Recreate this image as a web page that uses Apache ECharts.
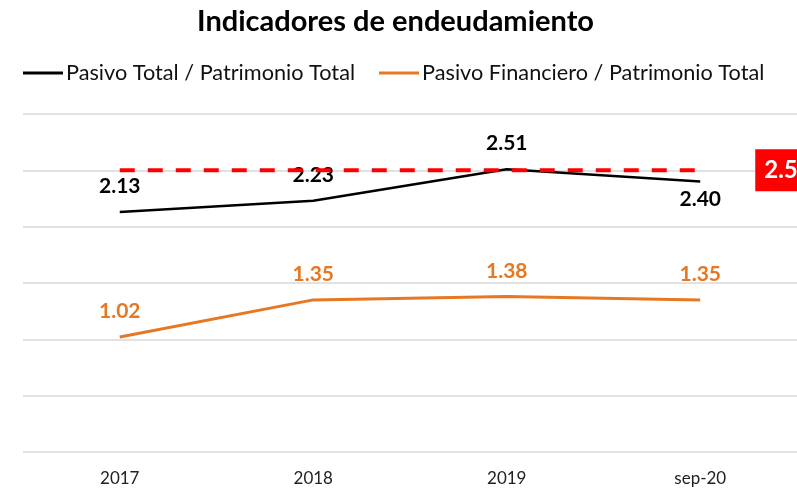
<!DOCTYPE html>
<html>
<head>
<meta charset="utf-8">
<script src="https://cdn.jsdelivr.net/npm/echarts@6/dist/echarts.min.js"></script>
<style>
  html, body { margin: 0; padding: 0; background: #fff; }
  #chart { width: 797px; height: 489px; }
</style>
</head>
<body>
<div id="chart"></div>
<script>
// datos del gráfico
const categories = ['2017', '2018', '2019', 'sep-20'];
const pasivoTotal = [2.13, 2.23, 2.51, 2.40];
const pasivoFinanciero = [1.02, 1.35, 1.38, 1.35];
const limite = [2.5, 2.5, 2.5, 2.5];

const chart = echarts.init(document.getElementById('chart'));

const labelFont = {
  fontFamily: 'Lato',
  fontWeight: 'bold',
  fontSize: 21
};

const option = {
  animation: false,
  title: {
    text: 'Indicadores de endeudamiento',
    left: 192,
    top: 2,
    textStyle: { fontFamily: 'Lato', fontWeight: 'bold', fontSize: 29, color: '#000' }
  },
  legend: {
    data: ['Pasivo Total / Patrimonio Total', 'Pasivo Financiero / Patrimonio Total'],
    left: 23,
    top: 62,
    padding: 0,
    icon: 'rect',
    itemWidth: 40,
    itemHeight: 3,
    itemGap: 24,
    textStyle: { fontFamily: 'Lato', fontSize: 21.7, color: '#111', padding: [0, 0, 0, -2] }
  },
  grid: { left: 23, right: -1, top: 114, bottom: 37 },
  xAxis: {
    type: 'category',
    data: categories,
    boundaryGap: true,
    axisLine: { show: false },
    axisTick: { show: false },
    axisLabel: { fontFamily: 'Lato', fontSize: 17, color: '#222', margin: 18 }
  },
  yAxis: {
    type: 'value',
    min: 0,
    max: 3,
    interval: 0.5,
    axisLabel: { show: false },
    axisLine: { show: false },
    axisTick: { show: false },
    splitLine: { lineStyle: { color: '#d9d9d9', width: 1.5 } }
  },
  series: [
    {
      name: 'Límite',
      type: 'line',
      data: limite,
      symbol: 'none',
      silent: true,
      lineStyle: { color: '#ff0000', width: 4, type: [15, 13] },
      endLabel: {
        show: true,
        formatter: '2.5',
        distance: 55,
        backgroundColor: '#ff0000',
        color: '#fff',
        padding: [9, 9],
        ...labelFont,
        fontSize: 24
      },
      z: 3
    },
    {
      name: 'Pasivo Total / Patrimonio Total',
      type: 'line',
      data: pasivoTotal.map((v, i) => i === 3 ? { value: v, label: { position: 'bottom', distance: 7 } } : v),
      symbol: 'circle',
      symbolSize: 0,
      showSymbol: true,
      lineStyle: { color: '#000', width: 2.5 },
      itemStyle: { color: '#000' },
      label: {
        show: true,
        position: 'top',
        distance: 15,
        color: '#000',
        formatter: p => p.value.toFixed(2),
        ...labelFont
      },
      z: 2
    },
    {
      name: 'Pasivo Financiero / Patrimonio Total',
      type: 'line',
      data: pasivoFinanciero,
      symbol: 'circle',
      symbolSize: 0,
      showSymbol: true,
      lineStyle: { color: '#e87722', width: 3 },
      itemStyle: { color: '#e87722' },
      label: {
        show: true,
        position: 'top',
        distance: 15,
        color: '#e87722',
        formatter: p => p.value.toFixed(2),
        ...labelFont
      },
      z: 2
    }
  ]
};

chart.setOption(option);
</script>
</body>
</html>
